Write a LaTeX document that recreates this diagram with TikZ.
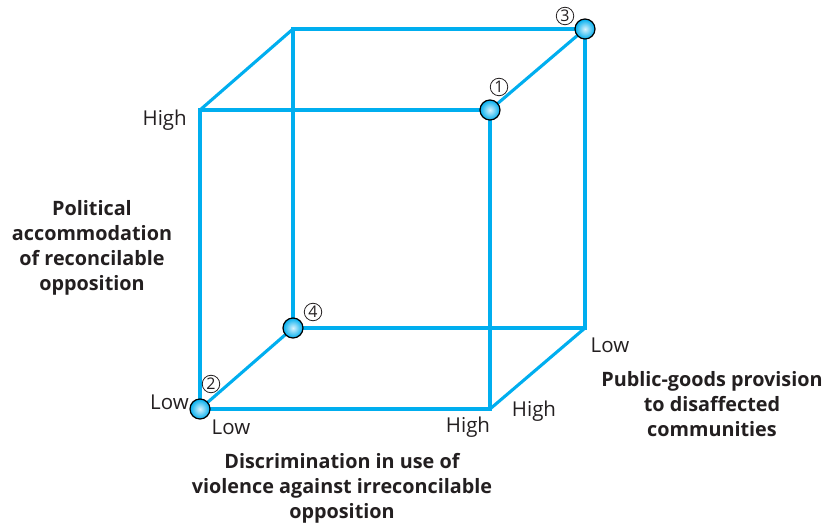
\documentclass[tikz,border=0pt]{standalone}
\usepackage{fontspec}
\setmainfont{Open Sans}
\usetikzlibrary{positioning}
\definecolor{cubeblue}{RGB}{0,174,239}
\definecolor{inkgray}{RGB}{35,31,32}
\tikzstyle{edge} = [draw=cubeblue, line width=3.1pt]
\tikzstyle{ball} = [circle, draw=black, line width=1.2pt, inner color=white!85!cubeblue, outer color=cubeblue, minimum size=20pt, inner sep=0pt]
\tikzstyle{tick} = [text=inkgray, inner sep=0pt, font=\fontsize{20.5}{24}\selectfont]
\tikzstyle{axis} = [text=inkgray, inner sep=0pt, align=center, font=\bfseries\fontsize{19.8}{25}\selectfont]
\tikzstyle{num} = [circle, draw=inkgray, line width=0.8pt, minimum size=17.5pt, inner sep=0pt, text=inkgray, font=\fontsize{16}{16}\selectfont]

\begin{document}
\begin{tikzpicture}[x=1pt, y=-1pt]
\useasboundingbox (0,0) rectangle (829,526);

% cube corners
\coordinate (ftl) at (200,110);
\coordinate (ftr) at (490,110);
\coordinate (fbl) at (200,409);
\coordinate (fbr) at (490,409);
\coordinate (btl) at (293,29);
\coordinate (btr) at (585,29);
\coordinate (bbl) at (293,328);
\coordinate (bbr) at (585,328);

\draw [edge] (ftl) -- (ftr) -- (fbr) -- (fbl) -- cycle;
\draw [edge] (btl) -- (btr) -- (bbr) -- (bbl) -- cycle;
\draw [edge] (ftl) -- (btl);
\draw [edge] (ftr) -- (btr);
\draw [edge] (fbl) -- (bbl);
\draw [edge] (fbr) -- (bbr);

% balls
\node (b1) [ball] at (ftr) {};
\node (b2) [ball] at (fbl) {};
\node (b3) [ball] at (btr) {};
\node (b4) [ball] at (bbl) {};
\node (n1) [num] at (499,87) {1};
\node (n2) [num] at (211,384) {2};
\node (n3) [num] at (565,16) {3};
\node (n4) [num] at (313,312) {4};

% ticks
\node (hi1) [tick, anchor=east] at (187,120) {High};
\node (lo1) [tick, anchor=east] at (189,402) {Low};
\node (lo2) [tick] at (231,427) {Low};
\node (hi2) [tick] at (468,427) {High};
\node (hi3) [tick] at (534,411) {High};
\node (lo3) [tick] at (610,345) {Low};

% axis titles
\node (ax1) [axis] at (92,248) {Political\\accommodation\\of reconcilable\\opposition};
\node (ax2) [axis] at (342,488) {Discrimination in use of\\violence against irreconcilable\\opposition};
\node (ax3) [axis] at (712,404) {Public-goods provision\\to disaffected\\communities};
\end{tikzpicture}
\end{document}
